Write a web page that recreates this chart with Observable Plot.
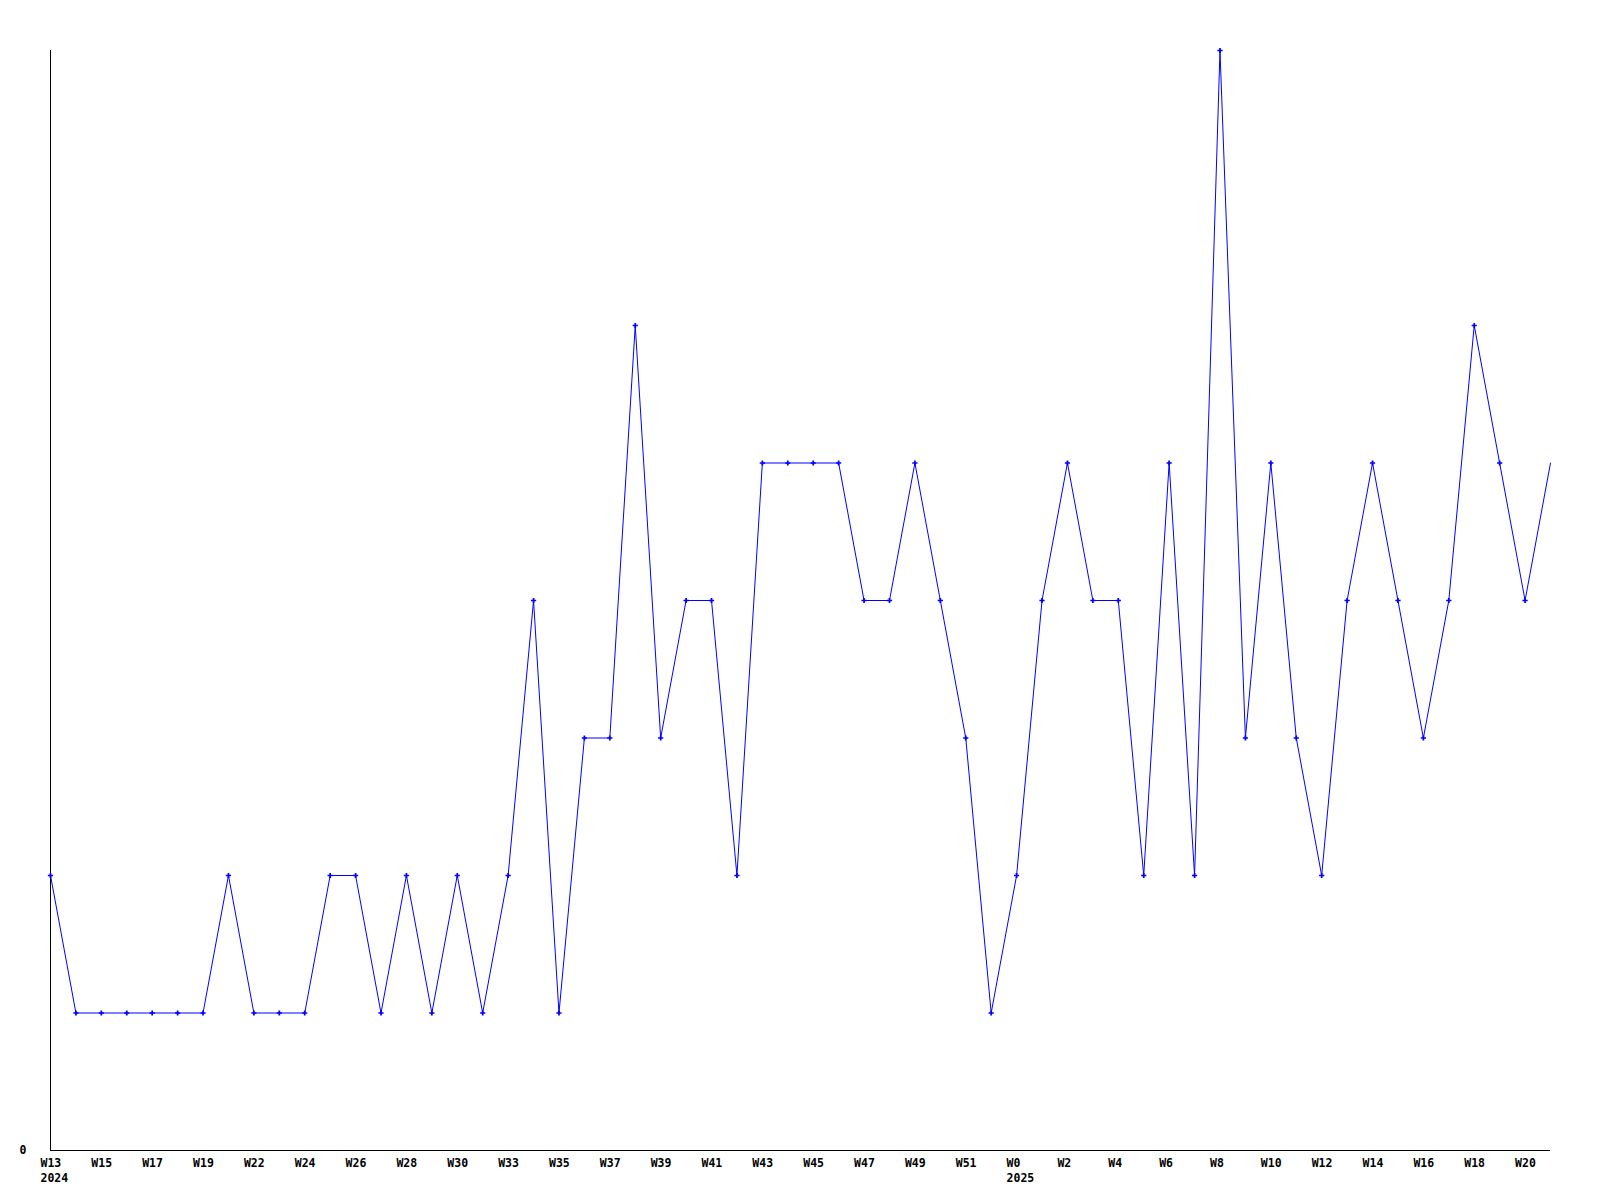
<!DOCTYPE html>
<html>
<head>
<meta charset="utf-8">
<script src="https://cdn.jsdelivr.net/npm/d3@7"></script>
<script src="https://cdn.jsdelivr.net/npm/@observablehq/plot@0.6"></script>
<style>
  html, body { margin: 0; padding: 0; background: #fff; }
</style>
</head>
<body>
<div id="chart"></div>
<script>
// Values per weekly point (index 0 = W13 2024 ... index 59)
const values = [2,1,1,1,1,1,1,2,1,1,1,2,2,1,2,1,2,1,2,4,1,3,3,6,3,4,4,2,5,5,5,5,4,4,5,4,3,1,2,4,5,4,4,2,5,2,8,3,5,3,2,4,5,4,3,4,6,5,4,5];
// Tick labels, every second point
const tickLabels = ["W13","W15","W17","W19","W22","W24","W26","W28","W30","W33","W35","W37","W39","W41","W43","W45","W47","W49","W51","W0","W2","W4","W6","W8","W10","W12","W14","W16","W18","W20"];
// Year labels under specific ticks
const yearLabels = {"W13": "2024", "W0": "2025"};

const data = values.map((v, i) => ({i, v}));
const tickIdx = tickLabels.map((_, k) => k * 2);
const fmt = i => {
  const lab = tickLabels[i / 2];
  return yearLabels[lab] ? lab + "\n" + yearLabels[lab] : lab;
};

const chart = Plot.plot({
  width: 1600,
  height: 1200,
  marginLeft: 50,
  marginRight: 50,
  marginTop: 50,
  marginBottom: 50,
  style: {fontFamily: "'DejaVu Sans Mono', monospace", fontSize: "11.5px", fontWeight: "bold", color: "#000", background: "#fff"},
  x: {domain: [0, values.length - 1], axis: null, label: null},
  y: {domain: [0, 8], axis: null, label: null},
  marks: [
    Plot.ruleX([0], {stroke: "#000", strokeWidth: 1}),
    Plot.ruleY([0], {stroke: "#000", strokeWidth: 1}),
    Plot.axisX({ticks: tickIdx, tickFormat: fmt, tickSize: 0, tickPadding: 6, textAnchor: "start", dx: -10, lineHeight: 1.3, fill: "#000", label: null}),
    Plot.axisY({ticks: [0], tickFormat: d => String(d), tickSize: 0, tickPadding: 24, fill: "#000", label: null}),
    Plot.line(data, {x: "i", y: "v", stroke: "#0000ff", strokeWidth: 1}),
    Plot.dot(data.slice(0, -1), {x: "i", y: "v", symbol: "cross", r: 2.2, fill: "#0000ff", stroke: "none"})
  ]
});
document.getElementById("chart").append(chart);
</script>
</body>
</html>
